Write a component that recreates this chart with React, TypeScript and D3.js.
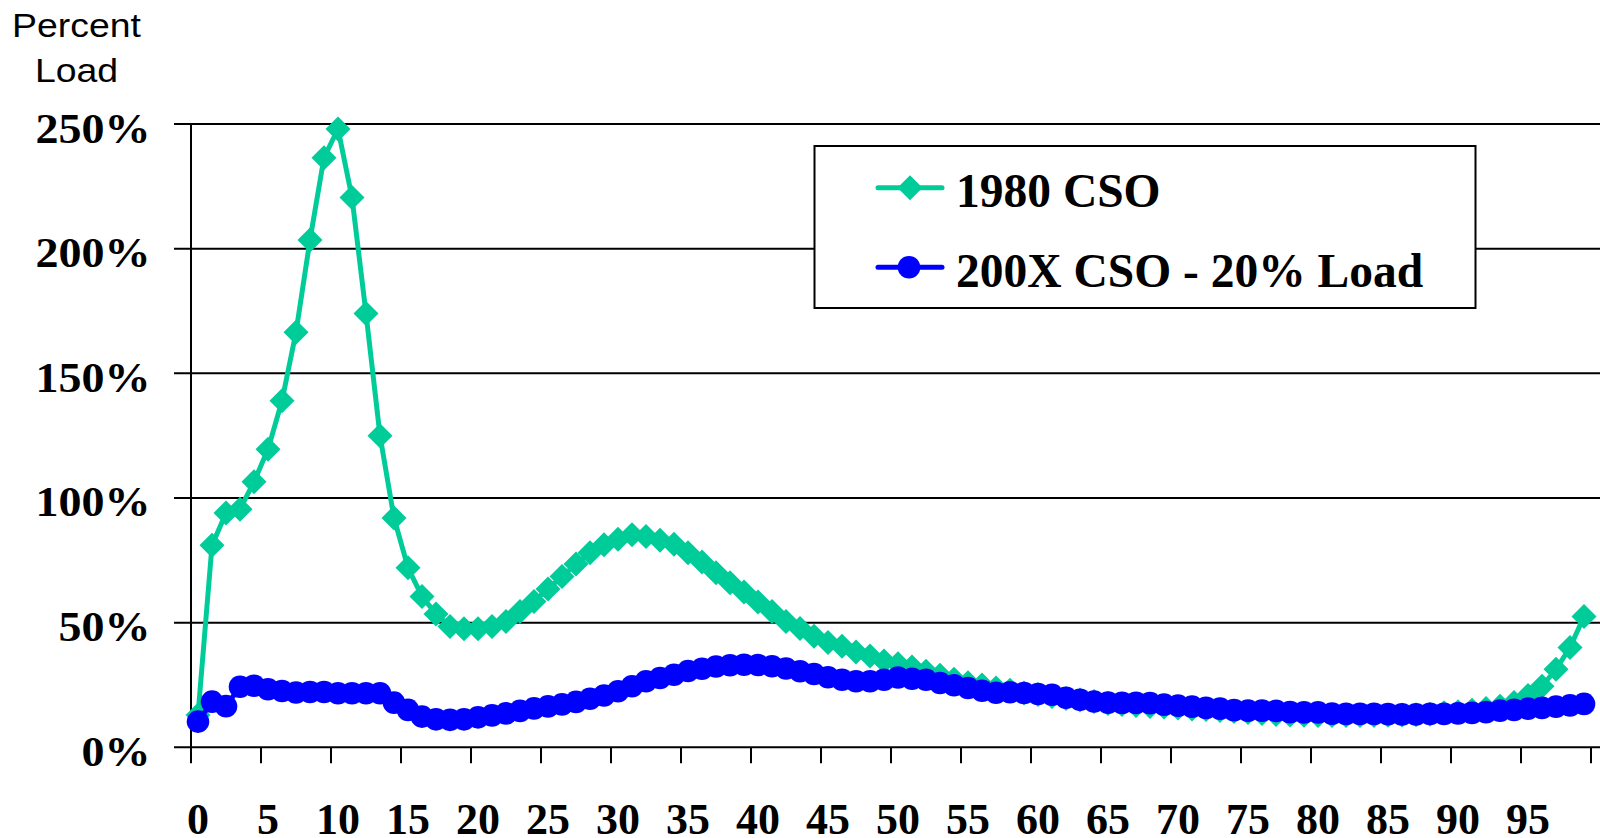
import React from "react";
import * as d3 from "d3";

const categories: number[] = d3.range(0, 100);
const xTickLabels: number[] = d3.range(0, 100, 5);
const yTicks: number[] = [0, 50, 100, 150, 200, 250];

const series1980: number[] = [
  13, 81, 94, 95.5, 106.5, 119.5, 139, 166.5, 203.5, 236.5,
  248, 220.5, 174, 125, 92, 72, 60.5, 53.5, 48.5, 47.5,
  47.5, 48.5, 50.5, 54.5, 58.5, 63.5, 68.5, 73.5, 78, 81.2,
  83.4, 85.3, 84.6, 83, 81.4, 78, 74.3, 70, 66, 62.3,
  58.3, 54.5, 50.5, 47.6, 44.5, 42, 40.5, 38.2, 36.6, 34.6,
  33.5, 32.2, 30.5, 28.9, 27.3, 25.9, 25, 23.8, 22.9, 21.8,
  21.2, 20.4, 19.6, 19, 18.4, 17.6, 17.2, 16.8, 16.4, 16.2,
  15.8, 15.4, 15.2, 14.8, 14.4, 14, 13.6, 13.2, 13, 12.9,
  12.8, 12.8, 12.8, 12.8, 12.8, 12.9, 13, 13.1, 13.3, 13.9,
  14.3, 14.9, 15.6, 16.5, 18, 20.8, 24.5, 31.3, 40, 52.5,
];

const series200X: number[] = [
  10.3, 18.3, 16.5, 24.3, 24.7, 23.3, 22.6, 22, 22.2, 22.2,
  21.7, 21.7, 21.7, 21.7, 17.9, 15, 12.3, 11.2, 11, 11.2,
  12, 12.8, 13.6, 14.6, 15.6, 16.4, 17.2, 18.2, 19.5, 20.8,
  22.5, 24.5, 26.5, 27.8, 29.1, 30.6, 31.5, 32.4, 32.9, 33.1,
  33, 32.5, 31.6, 30.5, 29.4, 28.1, 27.1, 26.5, 26.5, 27.1,
  28, 27.5, 27.1, 25.8, 24.9, 23.8, 22.7, 21.9, 22.1, 21.8,
  21.4, 21.1, 19.9, 19.1, 18.4, 17.9, 17.8, 17.8, 17.7, 17.1,
  16.7, 16.3, 15.8, 15.5, 14.9, 14.7, 14.7, 14.6, 14.1, 14,
  14, 13.5, 13.4, 13.4, 13.4, 13.3, 13.2, 13.2, 13.4, 13.4,
  13.6, 13.8, 14.1, 14.7, 15, 15.5, 15.8, 16.3, 16.8, 17.4,
];

const seriesNames: string[] = ["1980 CSO", "200X CSO - 20% Load"];

const GREEN = "#00CC99";
const BLUE = "#0000FF";

export default function App() {
  const W = 1600;
  const H = 838;
  const left = 191;
  const right = 1591;
  const top = 124;
  const bottom = 747.3;

  const x = d3.scaleLinear().domain([0, 100]).range([left, right]);
  const y = d3.scaleLinear().domain([0, 250]).range([bottom, top]);
  const cx = (i: number) => x(i + 0.5);

  const line = d3
    .line<number>()
    .x((_, i) => cx(i))
    .y((d) => y(d));

  const diamond = (px: number, py: number, r: number) =>
    `M${px},${py - r}L${px + r},${py}L${px},${py + r}L${px - r},${py}Z`;

  const serif = "'Liberation Serif', 'Times New Roman', serif";
  const sans = "'Liberation Sans', Arial, sans-serif";

  const tickBoundaries = d3.range(0, 101, 5);

  return (
    <svg
      width={W}
      height={H}
      style={{ position: "absolute", left: 0, top: 0, background: "#fff" }}
    >
      <rect x={0} y={0} width={W} height={H} fill="#fff" />
      {/* axis title */}
      <text
        transform="translate(76.5,36.5) scale(1.1,1)"
        fontFamily={sans}
        fontSize={34}
        textAnchor="middle"
        fill="#000"
      >
        Percent
      </text>
      <text
        transform="translate(76.5,81.5) scale(1.1,1)"
        fontFamily={sans}
        fontSize={34}
        textAnchor="middle"
        fill="#000"
      >
        Load
      </text>

      {/* gridlines + y ticks */}
      {yTicks.map((t) => (
        <g key={t}>
          <line x1={174} x2={W} y1={y(t)} y2={y(t)} stroke="#000" strokeWidth={2} />
          <text
            transform={`translate(150.5,${y(t) + 18.5}) scale(1.07,1)`}
            fontFamily={serif}
            fontWeight="bold"
            fontSize={43}
            textAnchor="end"
            fill="#000"
          >
            {`${t}%`}
          </text>
        </g>
      ))}

      {/* y axis line */}
      <line x1={left} x2={left} y1={top} y2={bottom} stroke="#000" strokeWidth={2} />

      {/* x ticks */}
      {tickBoundaries.map((b) => (
        <line key={b} x1={x(b)} x2={x(b)} y1={bottom} y2={bottom + 16} stroke="#000" strokeWidth={2} />
      ))}
      {xTickLabels.map((c) => (
        <text
          key={c}
          x={cx(c)}
          y={834}
          fontFamily={serif}
          fontWeight="bold"
          fontSize={44}
          textAnchor="middle"
          fill="#000"
        >
          {c}
        </text>
      ))}

      {/* 1980 series */}
      <path d={line(series1980) || ""} fill="none" stroke={GREEN} strokeWidth={5} strokeLinejoin="round" />
      {series1980.map((v, i) => (
        <path key={`g${categories[i]}`} d={diamond(cx(i), y(v), 12.5)} fill={GREEN} />
      ))}

      {/* 200X series */}
      <path d={line(series200X) || ""} fill="none" stroke={BLUE} strokeWidth={5} strokeLinejoin="round" />
      {series200X.map((v, i) => (
        <circle key={`b${categories[i]}`} cx={cx(i)} cy={y(v)} r={11.3} fill={BLUE} />
      ))}

      {/* legend */}
      <rect x={814.5} y={146} width={661} height={162} fill="#fff" stroke="#000" strokeWidth={2} />
      <line x1={878} x2={942} y1={187.7} y2={187.7} stroke={GREEN} strokeWidth={5} strokeLinecap="round" />
      <path d={diamond(910, 187.7, 12.5)} fill={GREEN} />
      <text x={956} y={206.7} fontFamily={serif} fontWeight="bold" fontSize={47.5} fill="#000">
        {seriesNames[0]}
      </text>
      <line x1={878} x2={942} y1={267.3} y2={267.3} stroke={BLUE} strokeWidth={5} strokeLinecap="round" />
      <circle cx={909} cy={267.3} r={11.3} fill={BLUE} />
      <text x={956} y={286.7} fontFamily={serif} fontWeight="bold" fontSize={47.5} fill="#000">
        {seriesNames[1]}
      </text>
    </svg>
  );
}
